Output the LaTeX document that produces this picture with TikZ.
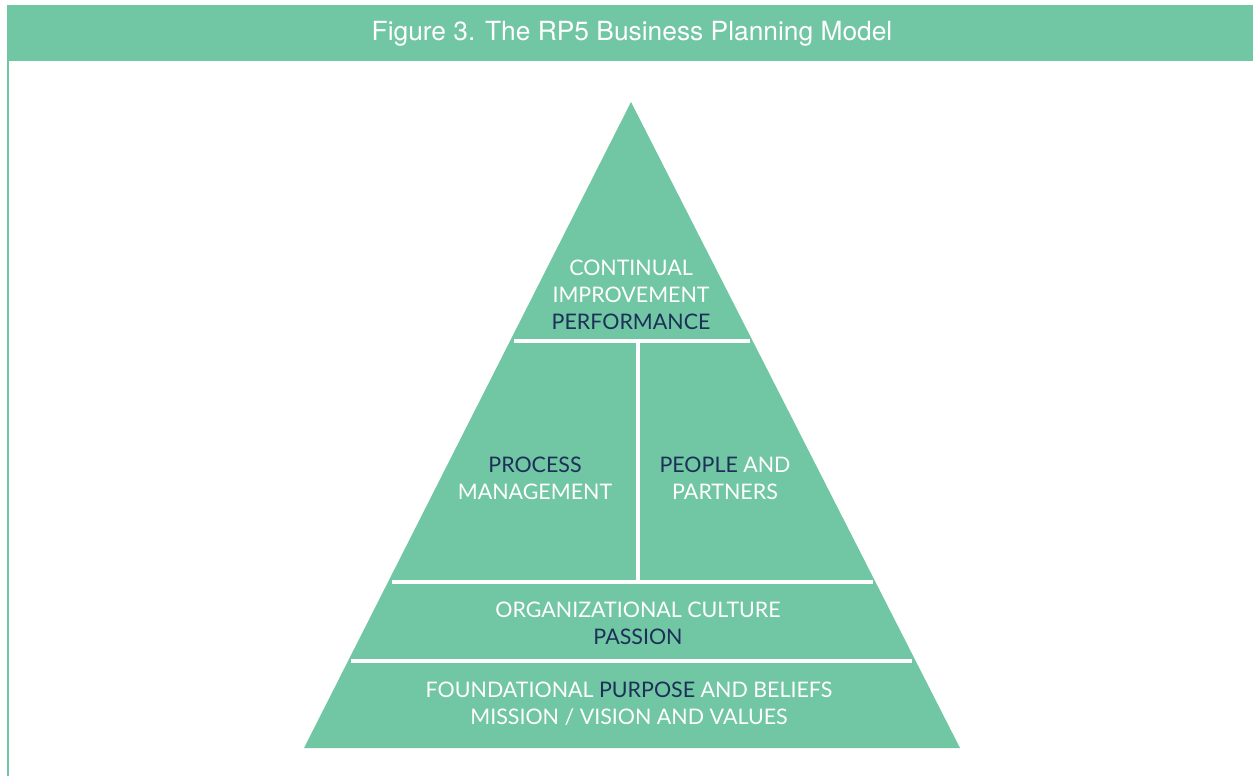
\documentclass[tikz,border=0pt]{standalone}
\usepackage{fontspec}
\setmainfont{Lato}
\newfontfamily\headfont{TeX Gyre Heros}
\usetikzlibrary{positioning}
\definecolor{rpgreen}{RGB}{113,198,163}
\definecolor{rpnavy}{RGB}{28,48,88}

\begin{document}
\begin{tikzpicture}[x=0.02cm, y=-0.02cm,
    layer/.style={font=\fontsize{12.2}{15.4}\selectfont, text=white,
                  align=center, inner sep=0pt},
    divider/.style={draw=white, line width=2.6pt},
  ]
  \useasboundingbox (0,0) rectangle (1253,776);

  % Kopfleiste mit Titel
  \fill[rpgreen] (7,5) rectangle (1253,61);
  \draw[rpgreen, line width=1.2pt] (8,61) -- (8,776);
  \node[font=\headfont\fontsize{15}{18}\selectfont, text=white] (title)
    at (632,34) {Figure 3. The RP5 Business Planning Model};

  % Pyramide
  \coordinate (apex) at (631,102);
  \coordinate (baseL) at (304,748);
  \coordinate (baseR) at (960,748);
  \fill[rpgreen] (apex) -- (baseR) -- (baseL) -- cycle;

  % Trennlinien
  \draw[divider] (514,341) -- (750,341);
  \draw[divider] (638,341) -- (638,582);
  \draw[divider] (392,582) -- (873,582);
  \draw[divider] (351,661) -- (912,661);

  % Beschriftung der Ebenen
  \node[layer] (top) at (631,295)
    {CONTINUAL\\IMPROVEMENT\\{\color{rpnavy}PERFORMANCE}};
  \node[layer] (process) at (535,478)
    {{\color{rpnavy}PROCESS}\\MANAGEMENT};
  \node[layer] (people) at (725,478)
    {{\color{rpnavy}PEOPLE} AND\\PARTNERS};
  \node[layer] (culture) at (638,623)
    {ORGANIZATIONAL CULTURE\\{\color{rpnavy}PASSION}};
  \node[layer] (found) at (629,704)
    {FOUNDATIONAL {\color{rpnavy}PURPOSE} AND BELIEFS\\MISSION / VISION AND VALUES};
\end{tikzpicture}
\end{document}
